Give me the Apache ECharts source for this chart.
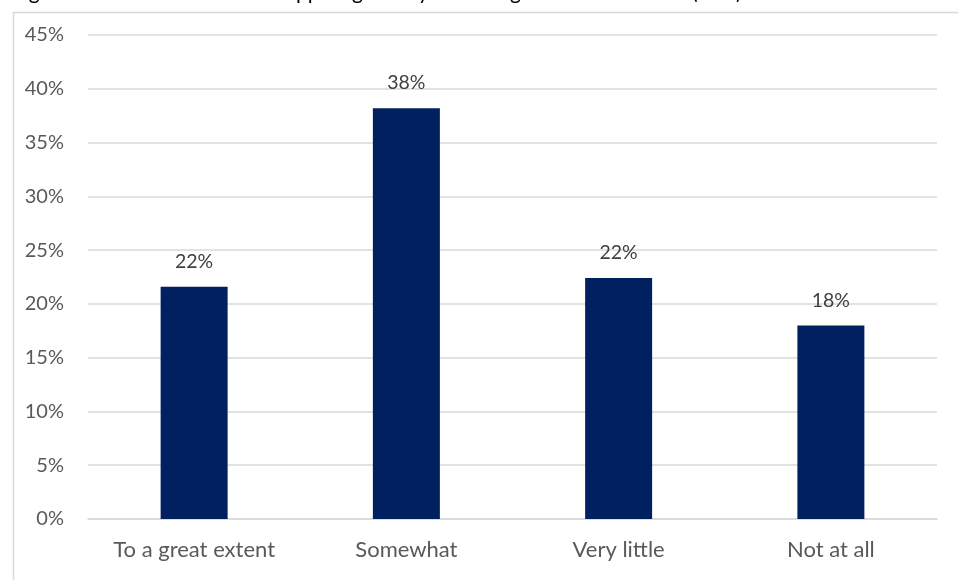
<!DOCTYPE html>
<html>
<head>
<meta charset="utf-8">
<script src="https://cdn.jsdelivr.net/npm/echarts@6/dist/echarts.min.js"></script>
<style>
  html, body { margin: 0; padding: 0; background: #fff; }
  #chart { width: 958px; height: 580px; }
</style>
</head>
<body>
<div id="chart"></div>
<script>
// Categories and shares of responses
const categories = ['To a great extent', 'Somewhat', 'Very little', 'Not at all'];
const shares = [0.216, 0.382, 0.224, 0.180];
const yTickMax = 0.45;
const yTickStep = 0.05;

const fontFamily = 'Lato, "Open Sans", "Liberation Sans", sans-serif';

const chart = echarts.init(document.getElementById('chart'), null, { renderer: 'canvas' });

chart.setOption({
  animation: false,
  backgroundColor: '#ffffff',
  graphic: [
    {
      type: 'rect',
      left: 11, top: 10,
      shape: { width: 1000, height: 620 },
      style: { fill: 'none', stroke: '#d9d9d9', lineWidth: 1.5 },
      z: 0
    },
    {
      type: 'text',
      left: 12, top: -18,
      style: {
        text: 'Figure 30: The extent of the support given by the recognition committees (n=...)',
        fill: '#000000',
        font: '21px ' + fontFamily
      },
      z: 1
    }
  ],
  grid: { left: 88, right: 21, top: 35, bottom: 61 },
  xAxis: {
    type: 'category',
    data: categories,
    axisTick: { show: false },
    axisLine: { show: true, lineStyle: { color: '#d9d9d9', width: 1.5 } },
    axisLabel: { color: '#595959', fontSize: 22, fontFamily: fontFamily, margin: 20 }
  },
  yAxis: {
    type: 'value',
    min: 0,
    max: yTickMax,
    interval: yTickStep,
    axisLine: { show: false },
    axisTick: { show: false },
    splitLine: { lineStyle: { color: '#d9d9d9', width: 1.5 } },
    axisLabel: {
      color: '#595959', fontSize: 20, fontFamily: fontFamily, margin: 24,
      formatter: v => Math.round(v * 100) + '%'
    }
  },
  series: [{
    type: 'bar',
    data: shares,
    barWidth: 67,
    itemStyle: { color: '#002060' },
    label: {
      show: true,
      position: 'top',
      distance: 15,
      color: '#404040',
      fontSize: 19.5,
      fontFamily: fontFamily,
      formatter: p => Math.round(p.value * 100) + '%'
    }
  }]
});
</script>
</body>
</html>
